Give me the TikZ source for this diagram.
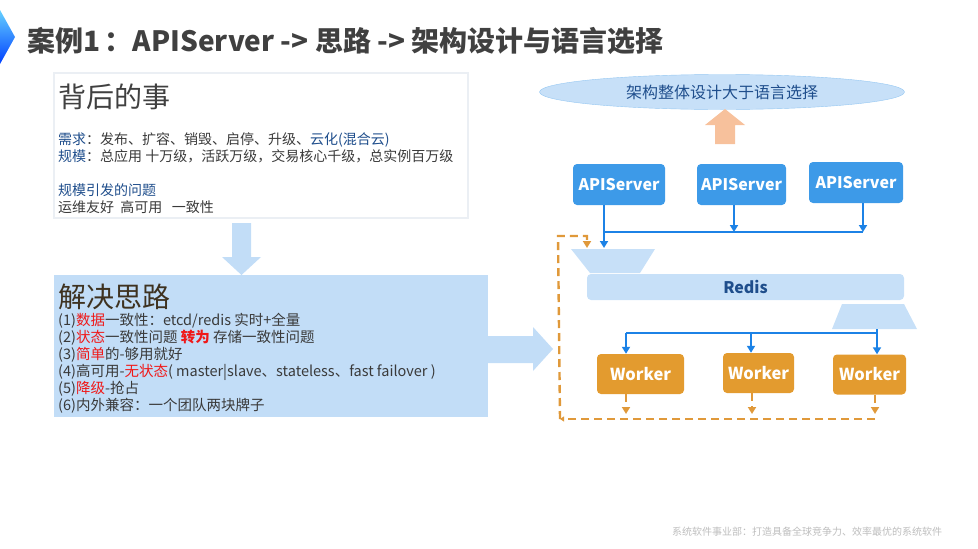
\documentclass[tikz,border=0pt]{standalone}
\usepackage{fontspec}
\setmainfont{Noto Sans CJK SC}
\usetikzlibrary{arrows.meta, shapes.geometric}
\definecolor{titlegray}{HTML}{404040}
\definecolor{textgray}{HTML}{3A3A3A}
\definecolor{keyblue}{HTML}{1F4E8C}
\definecolor{hotred}{HTML}{F01818}
\definecolor{ideabrown}{HTML}{3E3220}
\definecolor{ideablue}{HTML}{C2DDF7}
\definecolor{paleblue}{HTML}{C7E0F8}
\definecolor{apiblue}{HTML}{3D9AE8}
\definecolor{flowblue}{HTML}{1C82E6}
\definecolor{workorange}{HTML}{E39B2F}
\definecolor{dashorange}{HTML}{E0993A}
\definecolor{peach}{HTML}{F7C19C}
\definecolor{shadowgray}{HTML}{EBEFF4}
\definecolor{footgray}{HTML}{BDBDBD}
\newcommand{\hot}[1]{\textcolor{hotred}{#1}}
\newcommand{\key}[1]{\textcolor{keyblue}{#1}}

\begin{document}
\begin{tikzpicture}[x=1pt, y=-1pt,
    every node/.style={inner sep=0pt},
    textline/.style={anchor=base west, font=\fontsize{14}{17}\selectfont, text=textgray},
    bigtitle/.style={anchor=base west, font=\fontsize{28}{28}\selectfont},
    apibox/.style={fill=apiblue, rounded corners=4pt, text=white, minimum height=41pt, font=\bfseries\fontsize{16}{16}\selectfont},
    workbox/.style={fill=workorange, rounded corners=4pt, text=white, minimum height=40pt, font=\bfseries\fontsize{16.5}{16.5}\selectfont},
    flow/.style={draw=flowblue, line width=2.2pt, -{Triangle[length=7pt, width=8pt]}},
    back/.style={draw=dashorange, line width=2.4pt, dash pattern=on 8pt off 5pt, -{Triangle[length=7pt, width=8pt]}}]
  \useasboundingbox (0,0) rectangle (978,549);

  % heading
  \shade[top color=cyan!70!blue!60, bottom color=blue!75!cyan] (0,10) -- (15,37) -- (0,64) -- cycle;
  \node[anchor=base west, font=\bfseries\fontsize{28}{28}\selectfont, text=titlegray] (heading) at (27,51)
    {案例1\,：APIServer -> 思路 -> 架构设计与语言选择};

  % left: background and ideas
  \node[draw=shadowgray, line width=1.5pt, fill=white, minimum width=414pt, minimum height=145pt] (bgbox) at (261,145.5) {};
  \node[bigtitle, text=titlegray] (bgtitle) at (58,107) {背后的事};
  \node[textline] (need) at (58,144) {\key{需求}：发布、扩容、销毁、启停、升级、\key{云化(混合云)}};
  \node[textline] (scale) at (58,161) {\key{规模}：总应用 十万级，活跃万级，交易核心千级，总实例百万级};
  \node[textline] (issue) at (58,195) {\key{规模引发的问题}};
  \node[textline] (goal) at (58,212) {运维友好\ \ 高可用\ \ \ 一致性};

  \fill[ideablue] (232,223) -- (251,223) -- (251,257) -- (261,257) -- (241.5,275) -- (222,257) -- (232,257) -- cycle;

  \node[fill=ideablue, minimum width=434pt, minimum height=142pt] (ideabox) at (271,346) {};
  \node[bigtitle, text=ideabrown] (ideatitle) at (58,307.5) {解决思路};
  \foreach \txt [count=\i] in {
      {(1)\hot{数据}一致性：etcd/redis 实时+全量},
      {(2)\hot{状态}一致性问题 \hot{\bfseries 转为} 存储一致性问题},
      {(3)\hot{简单}的-够用就好},
      {(4)高可用-\hot{无状态}( master|slave、stateless、fast failover )},
      {(5)\hot{降级}-抢占},
      {(6)内外兼容：一个团队两块牌子}}
    \node[textline, font=\fontsize{14.5}{17}\selectfont] (idea\i) at (58,308+17*\i) {\txt};

  \fill[ideablue] (488,336) -- (533,336) -- (533,327) -- (553,349) -- (533,371) -- (533,363) -- (488,363) -- cycle;

  % right: architecture
  \node[ellipse, draw=apiblue!55, fill=paleblue, minimum width=365pt, minimum height=35pt,
    font=\fontsize{16}{16}\selectfont, text=keyblue] (motto) at (722,92) {架构整体设计大于语言选择};
  \fill[peach] (715,144) -- (735,144) -- (735,125) -- (745,125) -- (725,109) -- (705,125) -- (715,125) -- cycle;

  \node[apibox, minimum width=92pt] (api1) at (619,184.5) {APIServer};
  \node[apibox, minimum width=89pt] (api2) at (741.5,184.5) {APIServer};
  \node[apibox, minimum width=94pt] (api3) at (856,182.5) {APIServer};

  \fill[paleblue] (571,249) -- (655,249) -- (640,273) -- (590,273) -- cycle;
  \node[fill=paleblue, rounded corners=4pt, minimum width=317pt, minimum height=26pt,
    font=\bfseries\fontsize{16}{16}\selectfont, text=keyblue] (redis) at (745.5,287) {Redis};
  \fill[paleblue] (842,304) -- (904,304) -- (917,329) -- (832,329) -- cycle;

  \node[workbox, minimum width=87pt] (w1) at (640.5,374) {Worker};
  \node[workbox, minimum width=71pt] (w2) at (758.5,373) {Worker};
  \node[workbox, minimum width=73pt] (w3) at (869.5,374.5) {Worker};

  % blue flow
  \coordinate (redisIn) at (604,248);
  \coordinate (busL) at (604,232);
  \coordinate (tap2) at (734,232);
  \coordinate (tap3) at (863,232);
  \coordinate (redisOut) at (877,329);
  \coordinate (bus2) at (626,333);
  \coordinate (drop2) at (751,333);
  \draw[flow] (redisIn |- api1.south) -- (redisIn);
  \draw[draw=flowblue, line width=2.2pt] (busL) -- (tap3);
  \draw[flow] (tap2 |- api2.south) -- (tap2);
  \draw[flow] (tap3 |- api3.south) -- (tap3);
  \draw[flow] (redisOut) -- (redisOut |- w3.north);
  \draw[draw=flowblue, line width=2.2pt] (redisOut |- bus2) -- (bus2);
  \draw[flow] (bus2) -- (bus2 |- w1.north);
  \draw[flow] (drop2) -- (drop2 |- w2.north);

  % orange feedback
  \coordinate (back1) at (626,414);
  \coordinate (back2) at (752,414);
  \coordinate (back3) at (875,414);
  \coordinate (backR) at (875,419);
  \coordinate (corner) at (560,419);
  \coordinate (top) at (558,236);
  \coordinate (feed) at (587,248);
  \draw[back] (back1 |- w1.south) -- (back1);
  \draw[back] (back2 |- w2.south) -- (back2);
  \draw[back] (back3 |- w3.south) -- (back3);
  \draw[back, -{Triangle[length=4pt, width=5pt]}] (backR) -- (corner);
  \draw[back] (corner) -- (top) -- (top -| feed) -- (feed);

  \node[anchor=base west, font=\fontsize{10}{10}\selectfont, text=footgray] (footer) at (672,535)
    {系统软件事业部：打造具备全球竞争力、效率最优的系统软件};
\end{tikzpicture}
\end{document}
